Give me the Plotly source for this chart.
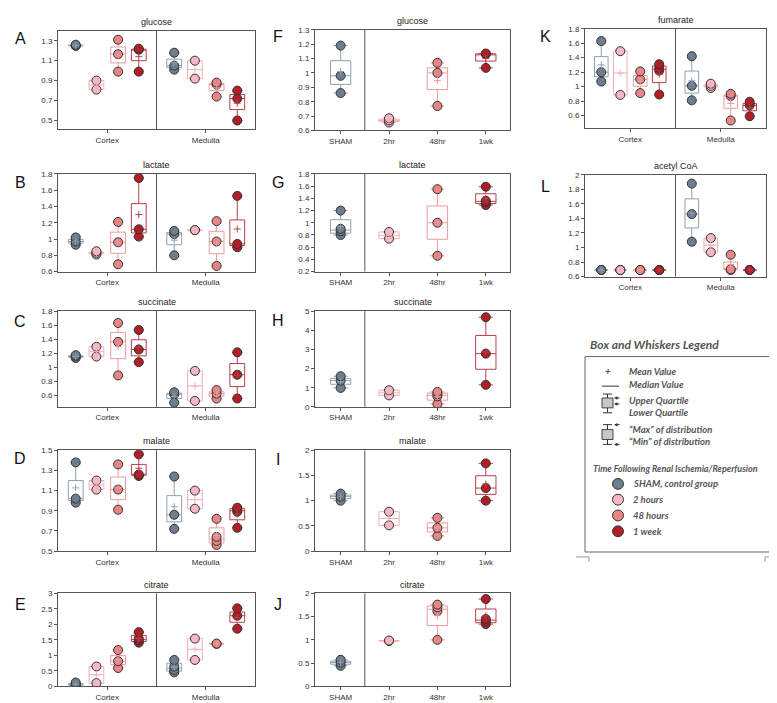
import plotly.graph_objects as go
import numpy as np

W, H = 777, 703

GROUPS = ["SHAM", "2hr", "48hr", "1wk"]
REGIONS = ["Cortex", "Medulla"]
FILLS = ["#6E7E8E", "#F6B8C2", "#EA8585", "#B01F26"]
BOXLINES = ["#8FA0B0", "#F4AEB9", "#EE9A9C", "#B4404A"]

# ---- data: one list per group: SHAM, 2hr, 48hr, 1wk ----
A_cortex = [[1.25, 1.25, 1.26], [0.81, 0.90], [0.99, 1.165, 1.31], [0.99, 1.21, 1.22]]
A_medulla = [[1.01, 1.05, 1.18], [0.92, 1.10], [0.74, 0.86, 0.88], [0.50, 0.72, 0.80]]
B_cortex = [[0.93, 0.97, 1.02], [0.81, 0.83, 0.85], [0.69, 0.96, 1.21], [1.03, 1.12, 1.75]]
B_medulla = [[0.80, 1.06, 1.10], [1.11, 1.11], [0.67, 0.97, 1.22], [0.90, 0.94, 1.53]]
C_cortex = [[1.13, 1.15, 1.17], [1.15, 1.29], [0.88, 1.36, 1.63], [1.07, 1.25, 1.53]]
C_medulla = [[0.49, 0.61, 0.64], [0.515, 0.945], [0.55, 0.62, 0.67], [0.55, 0.89, 1.21]]
D_cortex = [[0.98, 1.02, 1.38], [1.11, 1.20], [0.91, 1.11, 1.36], [1.245, 1.26, 1.46]]
D_medulla = [[0.72, 0.86, 1.24], [0.92, 1.10], [0.56, 0.60, 0.64, 0.82], [0.73, 0.89, 0.91, 0.93]]
E_cortex = [[0.02, 0.05, 0.12], [0.10, 0.64], [0.59, 0.81, 1.17], [1.41, 1.48, 1.54, 1.75]]
E_medulla = [[0.45, 0.53, 0.64, 0.85], [0.85, 1.54], [1.37, 1.38], [1.86, 2.28, 2.52]]

F_time = [[0.86, 0.98, 1.19], [0.655, 0.67, 0.685], [0.77, 1.00, 1.07], [1.035, 1.13, 1.135]]
G_time = [[0.80, 0.86, 0.90, 1.20], [0.74, 0.85], [0.46, 1.00, 1.55], [1.29, 1.34, 1.36, 1.59]]
H_time = [[0.99, 1.37, 1.60], [0.60, 0.87], [0.15, 0.55, 0.66, 0.78], [1.15, 2.78, 4.68]]
I_time = [[1.00, 1.08, 1.14], [0.51, 0.78], [0.30, 0.46, 0.66], [1.00, 1.25, 1.74]]
J_time = [[0.44, 0.51, 0.57], [0.975, 0.985], [1.00, 1.62, 1.70, 1.76], [1.34, 1.40, 1.45, 1.88]]

K_cortex = [[1.07, 1.20, 1.63], [0.885, 1.49], [0.91, 1.10, 1.21], [0.89, 1.22, 1.26, 1.31]]
K_medulla = [[0.81, 1.01, 1.42], [0.98, 1.01, 1.04], [0.53, 0.87, 0.90], [0.59, 0.74, 0.79]]
L_cortex = [[0.69, 0.69, 0.69], [0.69, 0.69, 0.69], [0.69, 0.69, 0.69], [0.69, 0.69, 0.69]]
L_medulla = [[1.08, 1.46, 1.88], [0.935, 1.13], [0.69, 0.70, 0.90], [0.69, 0.69, 0.69]]

# panel: letter, title, data, kind, pixel box (x0, x1, y0, y1), y range, tick0, dtick, letter pos
PANELS = [
    ("A", "glucose", [A_cortex, A_medulla], "region", (50, 247, 19, 119), [0.41, 1.4], 0.5, 0.2, (12, 27)),
    ("B", "lactate", [B_cortex, B_medulla], "region", (50, 247, 164, 263), [0.6, 1.8], 0.6, 0.2, (12, 173)),
    ("C", "succinate", [C_cortex, C_medulla], "region", (50, 247, 303, 400), [0.43, 1.8], 0.6, 0.2, (12, 314)),
    ("D", "malate", [D_cortex, D_medulla], "region", (50, 247, 444, 546), [0.5, 1.5], 0.5, 0.2, (12, 452)),
    ("E", "citrate", [E_cortex, E_medulla], "region", (50, 247, 589, 683), [0, 3], 0, 0.5, (12, 600)),
    ("F", "glucose", [F_time], "time", (307, 502, 18, 120), [0.6, 1.3], 0.6, 0.1, (270, 25)),
    ("G", "lactate", [G_time], "time", (307, 502, 164, 263), [0.2, 1.8], 0.2, 0.2, (270, 173)),
    ("H", "succinate", [H_time], "time", (307, 502, 303, 400), [0, 5], 0, 1, (270, 313)),
    ("I", "malate", [I_time], "time", (307, 502, 444, 546), [0, 2], 0, 0.5, (270, 453)),
    ("J", "citrate", [J_time], "time", (307, 502, 589, 683), [0, 2], 0, 0.5, (270, 600)),
    ("K", "fumarate", [K_cortex, K_medulla], "region", (577, 758, 17, 118), [0.42, 1.8], 0.6, 0.2, (537, 25)),
    ("L", "acetyl CoA", [L_cortex, L_medulla], "region", (577, 758, 165, 268), [0.6, 2.0], 0.6, 0.2, (537, 177)),
]

OFFSETS = [-0.32, -0.11, 0.11, 0.32]
FONT = "Liberation Sans, Arial, sans-serif"

fig = go.Figure()
annotations = []
shapes = []
layout_axes = {}


def px(x):
    return x / W


def py(y):
    return 1 - y / H


for i, (letter, title, data, kind, box, yr, t0, dt, lpos) in enumerate(PANELS, start=1):
    suf = "" if i == 1 else str(i)
    xa, ya = f"x{suf}", f"y{suf}"
    if kind == "region":
        xrange_ = [-0.5, 1.5]
        tickvals, ticktext = [0, 1], REGIONS
        bw = 0.15
    else:
        xrange_ = [-0.53, 3.5]
        tickvals, ticktext = [0, 1, 2, 3], GROUPS
        bw = 0.42
    for r, region in enumerate(data):
        for g, vals in enumerate(region):
            pos = (r + OFFSETS[g]) if kind == "region" else g
            xs = [pos] * len(vals)
            fig.add_trace(go.Box(
                x=xs, y=vals, xaxis=xa, yaxis=ya, width=bw,
                boxpoints=False, quartilemethod="inclusive",
                fillcolor="rgba(255,255,255,0)",
                line=dict(color=BOXLINES[g], width=1), whiskerwidth=0.7,
                showlegend=False, hoverinfo="skip"))
            fig.add_trace(go.Scatter(
                x=xs, y=vals, xaxis=xa, yaxis=ya, mode="markers",
                marker=dict(size=9, color=FILLS[g], line=dict(color="#333333", width=1)),
                showlegend=False, hoverinfo="skip"))
            fig.add_trace(go.Scatter(
                x=[pos], y=[float(np.mean(vals))], xaxis=xa, yaxis=ya, mode="markers",
                marker=dict(symbol="cross-thin", size=5, line=dict(color=BOXLINES[g], width=1)),
                showlegend=False, hoverinfo="skip"))
    x0, x1, y0, y1 = box
    layout_axes[f"xaxis{suf}"] = dict(
        domain=[px(x0), px(x1)], anchor=ya, range=xrange_, tickvals=tickvals,
        ticktext=ticktext, showline=True, mirror=True, linecolor="#555555",
        linewidth=1, ticks="outside", ticklen=3, tickcolor="#555555",
        showgrid=False, zeroline=False, tickfont=dict(size=8, color="#333333"))
    layout_axes[f"yaxis{suf}"] = dict(
        domain=[py(y1), py(y0)], anchor=xa, range=yr, tick0=t0, dtick=dt,
        showline=True, mirror=True, linecolor="#555555", linewidth=1,
        ticks="outside", ticklen=3, tickcolor="#555555", showgrid=False,
        zeroline=False, tickfont=dict(size=8, color="#333333"))
    shapes.append(dict(type="line", xref=xa, yref=f"{ya} domain", x0=0.5, x1=0.5,
                       y0=0, y1=1, line=dict(color="#555555", width=1)))
    annotations.append(dict(text=title, x=px((x0 + x1) / 2), y=py(y0 - 9), xref="paper",
                            yref="paper", showarrow=False, xanchor="center", yanchor="middle",
                            font=dict(size=9, color="#222222")))
    annotations.append(dict(text=letter, x=px(lpos[0]), y=py(lpos[1]), xref="paper", yref="paper",
                            showarrow=False, xanchor="center", yanchor="middle",
                            font=dict(size=16, color="#111111")))

# ---- Box and Whiskers legend (drawn in pixel space) ----
LG = "Lato, sans-serif"
GRAY = "#555555"


def text(t, x, y, size=9.5, anchor="left"):
    annotations.append(dict(text=f"<b><i>{t}</i></b>", x=px(x), y=py(y), xref="paper",
                            yref="paper", showarrow=False, xanchor=anchor, yanchor="middle",
                            font=dict(size=size, color=GRAY, family=LG)))


def rect(x0, y0, x1, y1, fill="rgba(0,0,0,0)", color=GRAY, width=1):
    shapes.append(dict(type="rect", xref="paper", yref="paper", x0=px(x0), x1=px(x1),
                       y0=py(y1), y1=py(y0), fillcolor=fill, line=dict(color=color, width=width)))


def line(x0, y0, x1, y1, color="#333333", width=1):
    shapes.append(dict(type="line", xref="paper", yref="paper", x0=px(x0), x1=px(x1),
                       y0=py(y0), y1=py(y1), line=dict(color=color, width=width)))


def arrow(x, y):
    annotations.append(dict(text="", x=px(x), y=py(y), xref="paper", yref="paper",
                            ax=7, ay=0, axref="pixel", ayref="pixel",
                            showarrow=True, arrowhead=2, arrowsize=0.7, arrowwidth=1,
                            arrowcolor="#333333"))


text("Box and Whiskers Legend", 580, 337, size=12)
rect(577, 349, 772, 547, color="#666666")
text("+", 600, 364, size=10, anchor="center")
text("Mean Value", 619, 364)
line(594, 379, 611, 379)
text("Median Value", 619, 377)
# box icon 1 (quartiles)
line(599.5, 387, 599.5, 406)
line(595, 387, 604, 387)
line(595, 406, 604, 406)
rect(594, 391, 605, 401, fill="#C8C8C8", color="#444444")
arrow(606, 391)
arrow(606, 397)
text("Upper Quartile", 619, 394)
text("Lower Quartile", 619, 406)
# box icon 2 (max/min)
line(599.5, 418, 599.5, 438)
line(595, 418, 604, 418)
line(595, 438, 604, 438)
rect(594, 423, 605, 433, fill="#C8C8C8", color="#444444")
arrow(606, 418)
arrow(606, 438)
text("\u201cMax\u201d of distribution", 619, 423)
text("\u201cMin\u201d of distribution", 619, 435)
text("Time Following Renal Ischemia/Reperfusion", 583, 462, size=9)
LEG_LABELS = ["SHAM, control group", "2 hours", "48 hours", "1 week"]
for k, (lab, yy) in enumerate(zip(LEG_LABELS, [478, 494, 510, 526])):
    shapes.append(dict(type="circle", xref="paper", yref="paper", x0=px(604.5), x1=px(615.5),
                       y0=py(yy + 5.5), y1=py(yy - 5.5), fillcolor=FILLS[k],
                       line=dict(color="#333333", width=1)))
    text(lab, 623, yy)
# corner marks below legend
line(568, 552, 581, 552, color="#999999")
line(581, 552, 581, 557, color="#999999")
line(757, 552, 773, 552, color="#999999")
line(757, 552, 757, 557, color="#999999")

fig.update_layout(
    width=W, height=H, margin=dict(l=0, r=0, t=0, b=0),
    paper_bgcolor="white", plot_bgcolor="white",
    font=dict(family=FONT, size=8, color="#333333"),
    boxmode="overlay", showlegend=False,
    annotations=annotations, shapes=shapes, **layout_axes)

fig.write_html("out.html")
